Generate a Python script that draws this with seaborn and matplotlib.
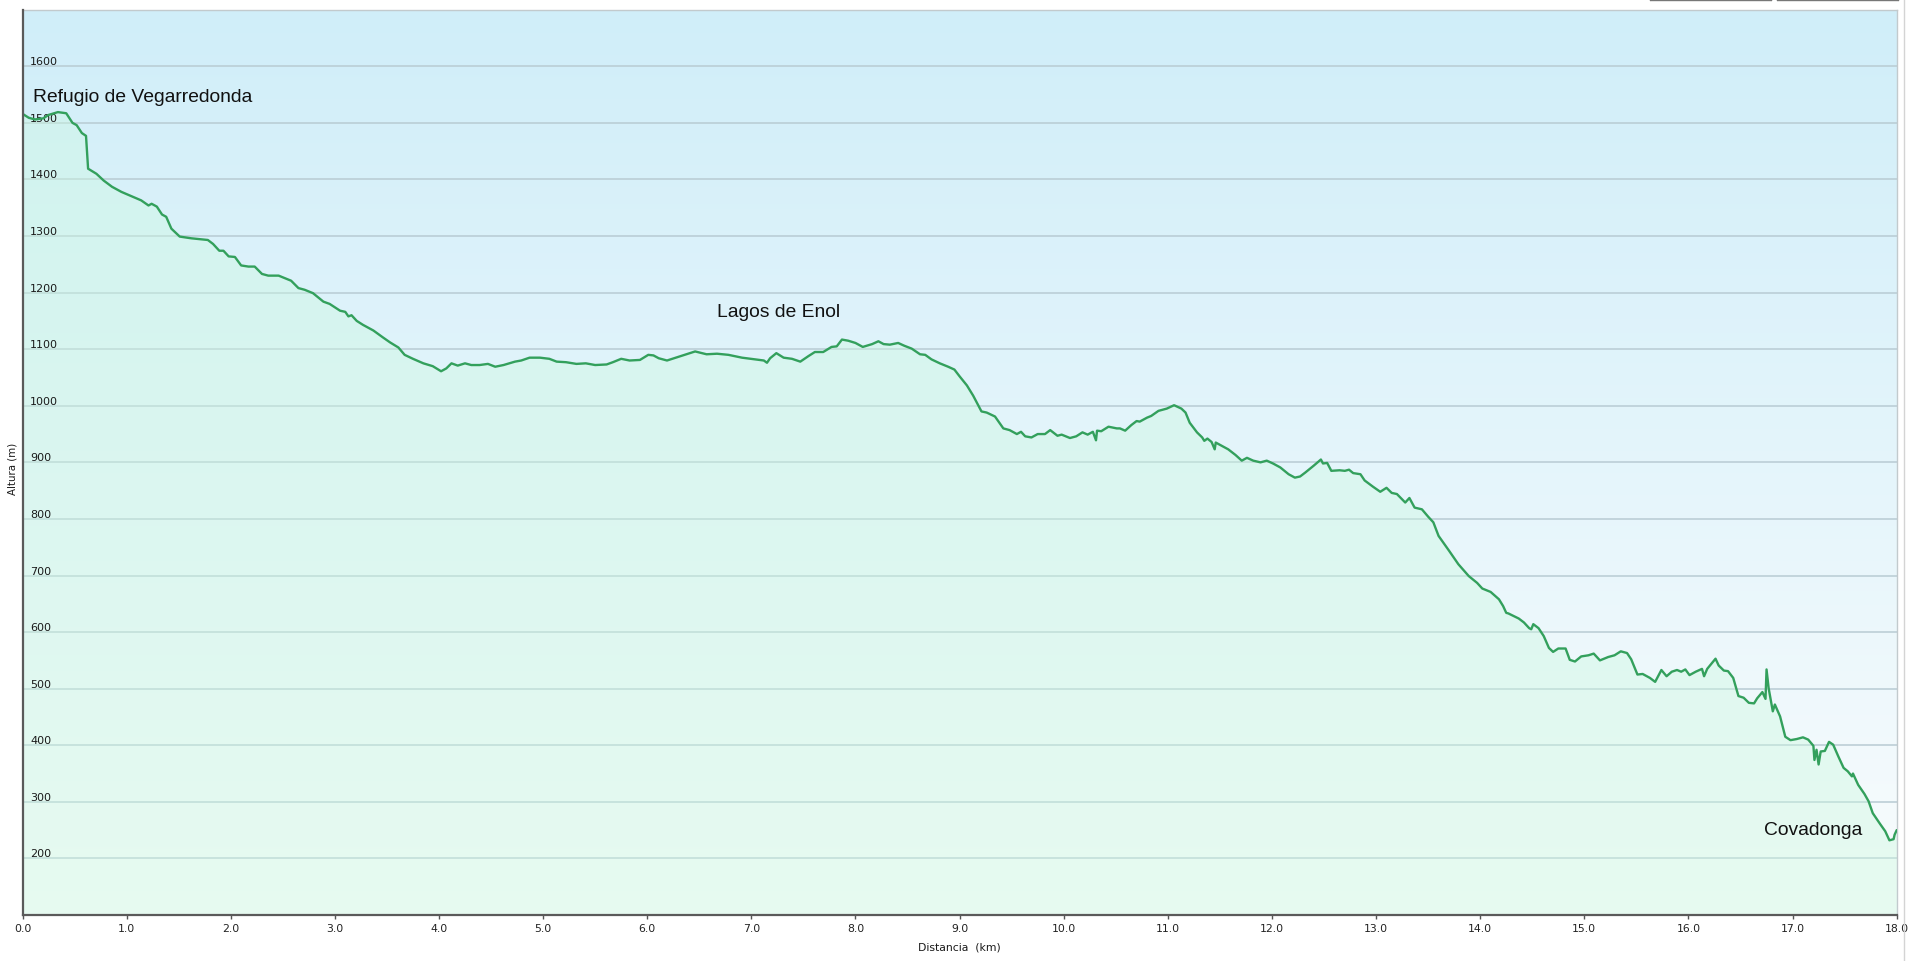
import numpy as np
import pandas as pd
import matplotlib
matplotlib.use("Agg")
import matplotlib.pyplot as plt
from matplotlib.lines import Line2D
from matplotlib.colors import to_rgb
import seaborn as sns

# ---------------- data ----------------
km = [0.00, 0.06, 0.12, 0.20, 0.25, 0.34, 0.42, 0.48, 0.52, 0.57, 0.61, 0.63, 0.71, 0.78, 0.86,
      0.95, 1.05, 1.14, 1.21, 1.24, 1.29, 1.34, 1.38, 1.43, 1.51, 1.62, 1.78, 1.83, 1.89, 1.93,
      1.98, 2.04, 2.10, 2.17, 2.23, 2.30, 2.36, 2.46, 2.54, 2.58, 2.65, 2.71, 2.79, 2.89, 2.95,
      3.05, 3.10, 3.13, 3.16, 3.21, 3.27, 3.37, 3.46, 3.53, 3.61, 3.67, 3.75, 3.85, 3.94, 4.02,
      4.07, 4.12, 4.18, 4.25, 4.31, 4.39, 4.47, 4.54, 4.62, 4.73, 4.79, 4.87, 4.97, 5.06, 5.13,
      5.22, 5.32, 5.41, 5.50, 5.61, 5.67, 5.75, 5.83, 5.93, 6.01, 6.06, 6.11, 6.19, 6.29, 6.36,
      6.46, 6.57, 6.67, 6.78, 6.91, 7.04, 7.12, 7.15, 7.18, 7.24, 7.31, 7.39, 7.47, 7.55, 7.61,
      7.69, 7.77, 7.82, 7.87, 7.93, 8.00, 8.07, 8.16, 8.22, 8.27, 8.33, 8.41, 8.47, 8.54, 8.62,
      8.67, 8.73, 8.81, 8.89, 8.95, 9.00, 9.04, 9.07, 9.13, 9.21, 9.26, 9.34, 9.42, 9.48, 9.55,
      9.59, 9.63, 9.69, 9.75, 9.82, 9.87, 9.94, 9.98, 10.06, 10.12, 10.18, 10.23, 10.28, 10.31,
      10.32, 10.36, 10.43, 10.51, 10.54, 10.59, 10.65, 10.70, 10.73, 10.80, 10.84, 10.91, 10.99,
      11.06, 11.13, 11.17, 11.21, 11.28, 11.33, 11.35, 11.38, 11.42, 11.45, 11.46, 11.52, 11.58,
      11.65, 11.71, 11.76, 11.82, 11.89, 11.95, 12.01, 12.08, 12.16, 12.22, 12.27, 12.32, 12.40,
      12.47, 12.49, 12.53, 12.57, 12.65, 12.70, 12.74, 12.78, 12.85, 12.89, 12.97, 13.04, 13.10,
      13.15, 13.20, 13.28, 13.32, 13.37, 13.44, 13.50, 13.55, 13.60, 13.70, 13.79, 13.89, 13.97,
      14.02, 14.10, 14.18, 14.22, 14.25, 14.27, 14.37, 14.42, 14.47, 14.49, 14.51, 14.56, 14.61,
      14.66, 14.70, 14.75, 14.82, 14.86, 14.91, 14.97, 15.04, 15.09, 15.15, 15.23, 15.29, 15.35,
      15.41, 15.45, 15.51, 15.56, 15.63, 15.68, 15.74, 15.79, 15.84, 15.89, 15.93, 15.97, 16.01,
      16.07, 16.13, 16.15, 16.18, 16.22, 16.26, 16.29, 16.34, 16.38, 16.43, 16.48, 16.53, 16.58,
      16.63, 16.66, 16.71, 16.74, 16.75, 16.77, 16.81, 16.83, 16.88, 16.93, 16.98, 17.04, 17.10,
      17.15, 17.20, 17.21, 17.23, 17.25, 17.27, 17.31, 17.35, 17.39, 17.44, 17.49, 17.53, 17.57,
      17.58, 17.63, 17.69, 17.73, 17.77, 17.84, 17.89, 17.93, 17.97, 17.98, 18.00]

altura = [1516, 1509, 1506, 1508, 1514, 1519, 1517, 1500, 1496, 1482, 1477, 1419, 1410, 1398, 1387,
          1378, 1370, 1363, 1354, 1357, 1352, 1338, 1334, 1313, 1299, 1296, 1293, 1286, 1274, 1274,
          1264, 1263, 1248, 1246, 1246, 1233, 1230, 1230, 1224, 1221, 1208, 1205, 1199, 1184, 1180,
          1168, 1166, 1158, 1160, 1150, 1143, 1133, 1121, 1112, 1103, 1090, 1083, 1075, 1070, 1061,
          1066, 1075, 1071, 1075, 1072, 1072, 1074, 1069, 1072, 1078, 1080, 1085, 1085, 1083, 1078,
          1077, 1074, 1075, 1072, 1073, 1077, 1083, 1080, 1081, 1090, 1089, 1084, 1080, 1086, 1090,
          1096, 1091, 1092, 1090, 1085, 1082, 1080, 1076, 1084, 1093, 1085, 1083, 1078, 1088, 1095,
          1095, 1104, 1105, 1117, 1115, 1111, 1104, 1109, 1114, 1109, 1108, 1111, 1106, 1101, 1091,
          1090, 1082, 1075, 1069, 1064, 1052, 1043, 1036, 1018, 990, 988, 981, 960, 957, 950,
          954, 946, 944, 950, 950, 957, 947, 949, 943, 946, 953, 949, 954, 939,
          956, 955, 963, 960, 960, 956, 966, 973, 972, 979, 982, 991, 995,
          1001, 995, 988, 970, 953, 944, 938, 942, 936, 923, 935, 929, 923,
          913, 903, 908, 903, 900, 903, 898, 891, 879, 873, 875, 882, 894,
          905, 898, 899, 885, 886, 885, 887, 881, 879, 868, 857, 848, 855,
          846, 844, 829, 837, 820, 817, 804, 794, 770, 744, 720, 699, 687,
          677, 671, 658, 646, 634, 633, 624, 617, 607, 605, 614, 607, 593,
          572, 565, 571, 571, 551, 548, 557, 559, 562, 550, 556, 559, 566,
          563, 552, 525, 526, 519, 512, 533, 522, 530, 533, 530, 534, 524,
          530, 535, 522, 535, 544, 553, 541, 532, 531, 519, 487, 484, 475,
          474, 483, 494, 482, 534, 501, 460, 472, 451, 415, 409, 411, 414,
          410, 399, 374, 392, 366, 389, 390, 406, 401, 380, 360, 354, 345,
          350, 330, 314, 301, 280, 261, 248, 232, 234, 242, 250]

x_ticks = [0, 1, 2, 3, 4, 5, 6, 7, 8, 9, 10, 11, 12, 13, 14, 15, 16, 17, 18]
y_ticks = [200, 300, 400, 500, 600, 700, 800, 900, 1000, 1100, 1200, 1300, 1400, 1500, 1600]

places = ["Refugio de Vegarredonda", "Lagos de Enol", "Covadonga"]
place_km = [0.10, 6.67, 16.73]
place_alt = [1538, 1159, 243]

df = pd.DataFrame({"Distancia": km, "Altura": altura})

# ---------------- figure ----------------
sns.set_style("white")
plt.rcParams["font.family"] = ["DejaVu Sans"]

W, H = 1909, 962
fig = plt.figure(figsize=(W / 100, H / 100), dpi=100)
fig.patch.set_facecolor("white")
ax_l, ax_r, ax_t, ax_b = 22.5, 1896.7, 10.7, 916.0
ax = fig.add_axes([ax_l / W, 1 - ax_b / H, (ax_r - ax_l) / W, (ax_b - ax_t) / H])
ax.set_axisbelow(False)

XMIN, XMAX, YMIN, YMAX = 0, 18, 100, 1700

# vertical gradient background
top = np.array(to_rgb("#d0eef9"))
bot = np.array(to_rgb("#f9fcfd"))
t = np.linspace(0, 1, 256)[:, None]
grad = (top[None, :] * (1 - t) + bot[None, :] * t)[:, None, :]
ax.imshow(grad, extent=[XMIN, XMAX, YMIN, YMAX], aspect="auto", origin="upper",
          zorder=0, interpolation="bilinear")

# grid lines
for yv in y_ticks:
    ax.axhline(yv, color="#b8cbd3", lw=1.1, zorder=1)

# fill under the profile
ax.fill_between(df["Distancia"], df["Altura"], YMIN, color="#ccf9e0", alpha=0.40,
                lw=0, zorder=2)

sns.lineplot(data=df, x="Distancia", y="Altura", ax=ax, color="#33a05c",
             linewidth=1.7, sort=False, estimator=None, zorder=3)

ax.set_xlim(XMIN, XMAX)
ax.set_ylim(YMIN, YMAX)

# ticks
ax.set_xticks(x_ticks)
ax.set_xticklabels([f"{v:.1f}" for v in x_ticks])
ax.tick_params(axis="x", direction="out", length=3, width=1, color="#555555", pad=2.8,
               bottom=True, labelsize=7.8, labelcolor="#222222")
ax.set_yticks(y_ticks)
ax.set_yticklabels([str(v) for v in y_ticks])
ax.tick_params(axis="y", length=0, pad=-5.4, left=True, labelsize=8,
               labelcolor="#1a1a1a")
for lab in ax.get_yticklabels():
    lab.set_horizontalalignment("left")
    lab.set_verticalalignment("bottom")

ax.set_xlabel("Distancia  (km)", fontsize=7.8, color="#1a1a1a", labelpad=6)
ax.set_ylabel("Altura (m)", fontsize=7.4, color="#1a1a1a")
ax.yaxis.set_label_coords(-0.0025, 0.494)

# spines
for side in ["left", "bottom"]:
    ax.spines[side].set_color("#5a5a5a")
    ax.spines[side].set_linewidth(1.6)
    ax.spines[side].set_zorder(5)
for side in ["top", "right"]:
    ax.spines[side].set_color("#c2cacd")
    ax.spines[side].set_linewidth(1.0)
ax.grid(False)

# place annotations
for name, xk, ya in zip(places, place_km, place_alt):
    ax.text(xk, ya, name, fontsize=13.9, family=["Liberation Sans", "DejaVu Sans"],
            color="#111111", ha="left", va="baseline", zorder=4)

# top-right buttons (mostly cut off) and right border of page
def fig_line(x0, y0, x1, y1, color, lw):
    fig.add_artist(Line2D([x0 / W, x1 / W], [1 - y0 / H, 1 - y1 / H], color=color, lw=lw,
                          transform=fig.transFigure))

for bx0, bx1 in [(1650, 1770.7), (1777.3, 1897.7)]:
    fig_line(bx0, 1.2, bx1, 1.2, "#777777", 1.0)
    fig_line(bx0, 0, bx0, 1.2, "#777777", 1.0)
    fig_line(bx1, 0, bx1, 1.2, "#777777", 1.0)
fig_line(1903.5, 0, 1903.5, H, "#d4d4d4", 1.0)

fig.savefig("out.png", dpi=100, facecolor="white")
